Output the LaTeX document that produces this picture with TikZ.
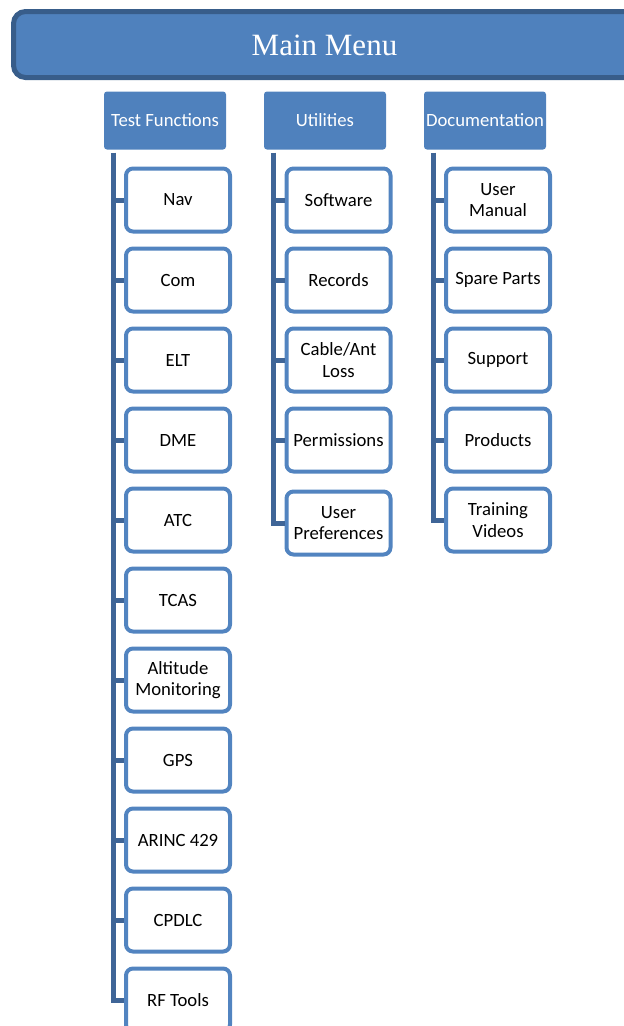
\documentclass[tikz,border=0pt]{standalone}
\usepackage{fontspec}
\setmainfont{Carlito}
\newfontfamily\mmfont{Liberation Serif}
\definecolor{hdr}{HTML}{4F81BD}
\definecolor{mmborder}{HTML}{385D8A}
\definecolor{barc}{HTML}{3F6597}
\definecolor{childb}{HTML}{5284C0}
\begin{document}
\begin{tikzpicture}[x=1pt,y=-1pt,
  hdrbox/.style={fill=hdr, rounded corners=3pt, minimum width=122pt, minimum height=58pt, inner sep=0pt, text=white, font=\fontsize{18.7}{21.5}\selectfont},
  childbox/.style={draw=childb, line width=4pt, fill=white, rounded corners=7pt, minimum width=104pt, minimum height=63pt, inner sep=0pt, align=center, font=\fontsize{18.7}{21.5}\selectfont},
  barline/.style={draw=barc, line width=5pt},
  mainbox/.style={draw=mmborder, line width=5pt, fill=hdr, rounded corners=12pt, minimum width=686pt, minimum height=66pt, inner sep=0pt},
  maintext/.style={text=white, font=\mmfont\fontsize{31}{36}\selectfont, anchor=base, inner sep=0pt}
]
\useasboundingbox (0,0) rectangle (624,1026);
\clip (0,0) rectangle (624,1026);

% main menu
\node[mainbox] (mm) at (356.5,44.5) {};
\node[maintext] (mmt) at (324.5,55) {Main Menu};

% headers
\node[hdrbox] (tf) at (165,120.5) {Test Functions};
\node[hdrbox] (ut) at (325,120.5) {Utilities};
\node[hdrbox] (doc) at (485,120.5) {Documentation};

\coordinate (tfb) at ([xshift=10pt,yshift=-3pt]tf.south west);
\coordinate (utb) at ([xshift=10pt,yshift=-3pt]ut.south west);
\coordinate (docb) at ([xshift=10pt,yshift=-3pt]doc.south west);

% test functions children
\node[childbox] (nav) at (178,200) {Nav};
\node[childbox] (com) at (178,280) {Com};
\node[childbox] (elt) at (178,360) {ELT};
\node[childbox] (dme) at (178,440) {DME};
\node[childbox] (atc) at (178,520) {ATC};
\node[childbox] (tcas) at (178,600) {TCAS};
\node[childbox] (alt) at (178,680) {Altitude\\Monitoring};
\node[childbox] (gps) at (178,760) {GPS};
\node[childbox] (arinc) at (178,840) {ARINC 429};
\node[childbox] (cpdlc) at (178,920) {CPDLC};
\node[childbox] (rf) at (178,1000) {RF Tools};

% utilities children
\node[childbox] (sw) at (338.5,200) {Software};
\node[childbox] (rec) at (338.5,280) {Records};
\node[childbox] (cab) at (338.5,360) {Cable/Ant\\Loss};
\node[childbox] (perm) at (338.5,440) {Permissions};
\node[childbox] (upref) at (338.5,523) {User\\Preferences};

% documentation children
\node[childbox] (um) at (498,200) {User\\Manual};
\node[childbox] (sp) at (498,280) {Spare Parts};
\node[childbox] (sup) at (498,360) {Support};
\node[childbox] (prod) at (498,440) {Products};
\node[childbox] (tv) at (498,520) {Training\\Videos};

% connectors
\draw[barline] (tfb) |- (rf.west);
\foreach \n in {nav,com,elt,dme,atc,tcas,alt,gps,arinc,cpdlc}
  \draw[barline] (tfb |- \n.west) -- (\n.west);
\draw[barline] (utb) |- (upref.west);
\foreach \n in {sw,rec,cab,perm}
  \draw[barline] (utb |- \n.west) -- (\n.west);
\draw[barline] (docb) |- (tv.west);
\foreach \n in {um,sp,sup,prod}
  \draw[barline] (docb |- \n.west) -- (\n.west);
\end{tikzpicture}
\end{document}
